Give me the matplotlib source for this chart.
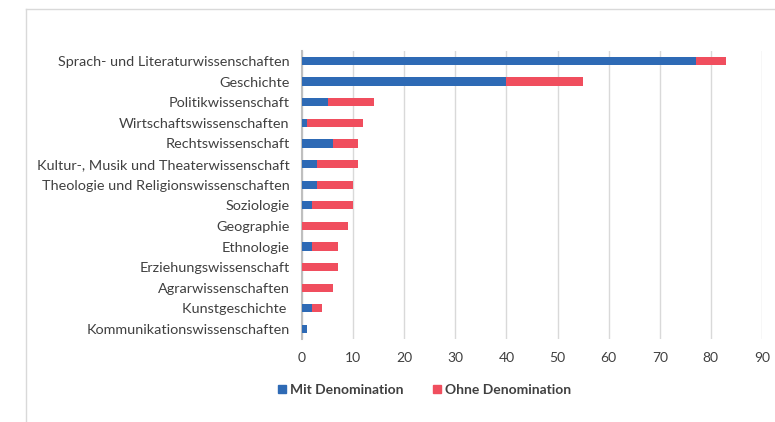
import matplotlib.pyplot as plt
from matplotlib.lines import Line2D

plt.rcParams['font.family'] = ['Lato', 'DejaVu Sans']

# Categories (top to bottom as shown)
categories = ['Sprach- und Literaturwissenschaften', 'Geschichte', 'Politikwissenschaft',
              'Wirtschaftswissenschaften', 'Rechtswissenschaft',
              'Kultur-, Musik und Theaterwissenschaft', 'Theologie und Religionswissenschaften',
              'Soziologie', 'Geographie', 'Ethnologie', 'Erziehungswissenschaft',
              'Agrarwissenschaften', 'Kunstgeschichte ', 'Kommunikationswissenschaften']
mit = [77, 40, 5, 1, 6, 3, 3, 2, 0, 2, 0, 0, 2, 1]
ohne = [6, 15, 9, 11, 5, 8, 7, 8, 9, 5, 7, 6, 2, 0]

blue = '#2E6AB5'
red = '#F04E5E'

fig = plt.figure(figsize=(7.75, 4.22), dpi=100)
ax = fig.add_axes([0.3897, 0.196, 0.5935, 0.684])

y = list(range(len(categories)))[::-1]
ax.barh(y, mit, height=0.4, color=blue, zorder=3)
ax.barh(y, ohne, left=mit, height=0.4, color=red, zorder=3)

ax.set_xlim(0, 90)
ax.set_ylim(-0.5, len(categories) - 0.5)
ax.set_xticks(range(0, 91, 10))
ax.set_yticks(y)
ax.set_yticklabels(categories)
ax.tick_params(axis='both', length=0, labelsize=10, colors='#404040')
ax.tick_params(axis='y', pad=9, labelsize=10.4)
ax.tick_params(axis='x', pad=9)
ax.grid(axis='x', color='#D9D9D9', linewidth=1, zorder=0)
for s in ['top', 'right', 'bottom']:
    ax.spines[s].set_visible(False)
ax.spines['left'].set_color('#BFBFBF')
ax.spines['left'].set_linewidth(1.5)

handles = [Line2D([], [], marker='s', linestyle='', color=blue, markersize=6),
           Line2D([], [], marker='s', linestyle='', color=red, markersize=6)]
leg = fig.legend(handles, ['Mit Denomination', 'Ohne Denomination'], loc='center',
                 bbox_to_anchor=(0.547, 0.075), ncol=2, frameon=False,
                 handletextpad=0.2, columnspacing=2.0, handlelength=0.8,
                 prop={'size': 10, 'weight': 'bold'})
for t in leg.get_texts():
    t.set_color('#404040')

# chart area border
fig.add_artist(Line2D([26 / 775, 1], [1 - 9 / 422, 1 - 9 / 422], color='#D9D9D9', linewidth=1))
fig.add_artist(Line2D([26 / 775, 26 / 775], [0, 1 - 9 / 422], color='#D9D9D9', linewidth=1))

fig.savefig('out.png', dpi=100)
